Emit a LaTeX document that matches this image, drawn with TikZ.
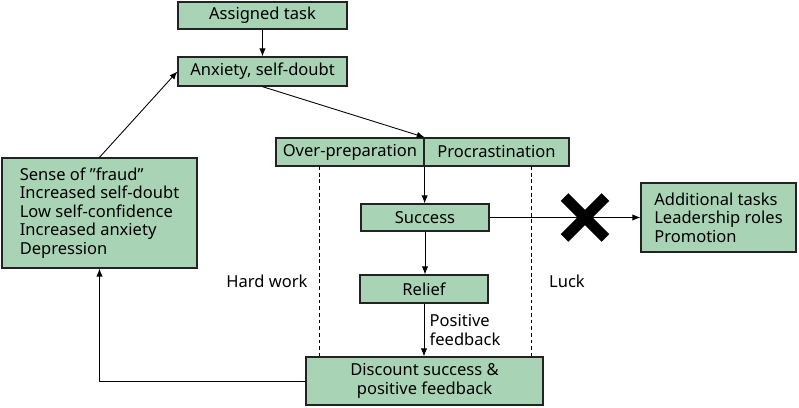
\documentclass[tikz,border=0pt]{standalone}
\usepackage{fontspec}
\setmainfont{Noto Sans}
\usepackage{xcolor}
\usepackage{tikz}
\usetikzlibrary{arrows.meta,shapes.misc}
\definecolor{BoxGreen}{RGB}{168,211,181}
\definecolor{EdgeGrey}{RGB}{35,35,35}
\tikzset{
  stage/.style={draw=EdgeGrey, line width=0.75pt, fill=BoxGreen, inner sep=2pt,
    minimum height=0.54cm, align=center, font=\fontsize{9.4}{10.5}\selectfont},
  listbox/.style={stage, align=left},
  arr/.style={-{Latex[length=4.5pt,width=3.6pt]}, line width=0.5pt, black},
  dashline/.style={line width=0.5pt, dash pattern=on 2.2pt off 1.6pt},
  lbl/.style={font=\fontsize{9.4}{10.5}\selectfont, inner sep=1pt, align=left},
  nogo/.style={cross out, draw=black, line width=6.2pt, minimum size=0.6cm, inner sep=0pt},
}

\begin{document}
\begin{tikzpicture}[x=0.02cm, y=-0.02cm]
  \useasboundingbox (0,0) rectangle (799,408);
  % main chain
  \node[stage, minimum width=3.38cm] (task) at (262.5,15.5) {Assigned task};
  \node[stage, minimum width=3.38cm, minimum height=0.58cm] (anx) at (262.5,71.5) {Anxiety, self-doubt};
  \node[stage, minimum width=2.96cm, minimum height=0.56cm] (overprep) at (350,152) {Over-preparation};
  \node[stage, minimum width=2.9cm, minimum height=0.56cm] (procr) at (496.5,152) {Procrastination};
  \node[stage, minimum width=2.56cm] (success) at (425,217.5) {Success};
  \node[stage, minimum width=2.56cm, minimum height=0.56cm] (relief) at (424,289) {Relief};
  \node[stage, minimum width=4.74cm, minimum height=0.96cm] (discount) at (424.5,381) {Discount success \&\\positive feedback};
  % side boxes
  \node[listbox, minimum width=3.9cm, minimum height=2.2cm] (fraud) at (99.5,213)
    {Sense of ”fraud”\\Increased self-doubt\\Low self-confidence\\Increased anxiety\\Depression};
  \node[listbox, minimum width=3.1cm, minimum height=1.38cm] (gains) at (718.5,217.5)
    {Additional tasks\\Leadership roles\\Promotion};
  % dashed guides
  \coordinate (hwtop) at (319,166);
  \coordinate (lucktop) at (531,166);
  \draw[dashline] (hwtop) -- (hwtop |- discount.north);
  \draw[dashline] (lucktop) -- (lucktop |- discount.north);
  \node[lbl] (hard) at (267,281) {Hard work};
  \node[lbl] (luck) at (567,281) {Luck};
  % connectors
  \draw[arr] (task) -- (anx);
  \draw[arr] (anx.south) -- (overprep.north east);
  \draw[arr] (overprep.south east) -- (overprep.south east |- success.north);
  \draw[arr] (success) -- (success |- relief.north);
  \draw[arr] (relief) -- (relief |- discount.north)
    node[lbl, midway, right, xshift=2pt] (posfb) {Positive\\feedback};
  \draw[arr] (success) -- (gains);
  \node[nogo] (stop) at (585,217.5) {};
  \draw[arr] (discount.west) -| (fraud.south);
  \draw[arr] (fraud.north) -- (anx.west);
\end{tikzpicture}
\end{document}
